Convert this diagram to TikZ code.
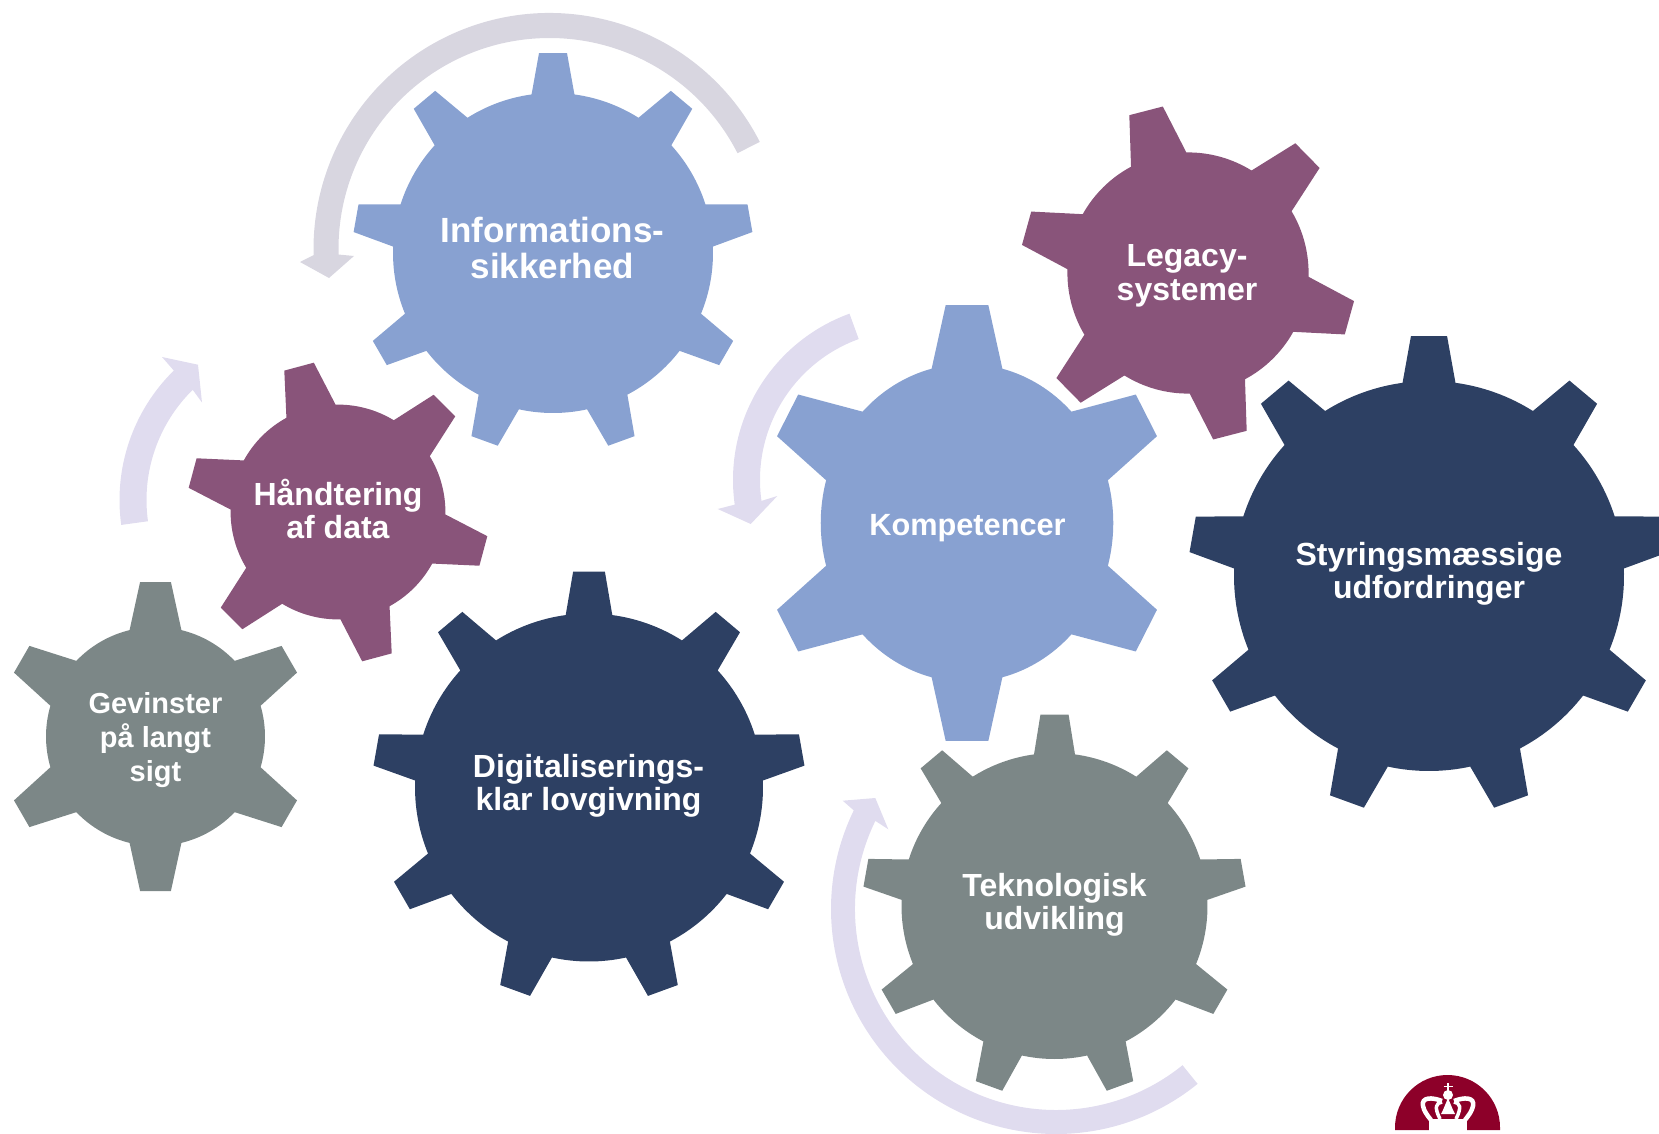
\documentclass[tikz,border=0pt]{standalone}
\usepackage{fontspec}
\setmainfont{Liberation Sans}
\definecolor{gblue}{HTML}{88A1D1}
\definecolor{gplum}{HTML}{89547A}
\definecolor{gnavy}{HTML}{2D4063}
\definecolor{ggrey}{HTML}{7C8787}
\definecolor{alilac}{HTML}{E0DCEF}
\definecolor{agrey}{HTML}{D8D6E0}
\definecolor{crownred}{HTML}{8D0029}
\tikzset{
  gearlabel/.style 2 args={text=white,align=center,inner sep=0pt,font=\bfseries\fontsize{#1}{#2}\selectfont},
}
% #1 scope options, #2 root radius, #3 tip radius, #4 teeth, #5 base half angle, #6 tip half angle, #7 colour
\newcommand\gearshape[7]{%
  \pgfmathsetmacro\gstep{360/#4}%
  \pgfmathsetmacro\gtop{#3/cos(#6)}%
  \pgfmathtruncatemacro\glast{#4-1}%
  \begin{scope}[#1]
    \fill[#7] ({-90-#5}:#2)
      \foreach \k [evaluate=\k as \A using {-90+\k*\gstep}] in {0,...,\glast} {
        -- ({\A-#6}:\gtop) -- ({\A+#6}:\gtop) -- ({\A+#5}:#2)
        arc[start angle={\A+#5},end angle={\A+\gstep-#5},radius=#2]
      } -- cycle;
  \end{scope}}
% #1 centre, #2 outer R, #3 inner R, #4 tail angle, #5 head angle, #6 head outer, #7 tip, #8 head inner, #9 colour
\newcommand\blockarrow[9]{%
  \fill[#9] ($(#1)+(#4:#2)$) arc[start angle=#4,end angle=#5,radius=#2]
    -- (#6) -- (#7) -- (#8) -- ($(#1)+(#5:#3)$)
    arc[start angle=#5,end angle=#4,radius=#3] -- cycle;}
\usetikzlibrary{calc}
\begin{document}
\begin{tikzpicture}[x=1pt,y=1pt,yscale=-1]
\useasboundingbox (0,0) rectangle (1659,1134);
% arrows
\blockarrow{549.5,249}{236}{211}{-27}{-181.5}{300,262}{329,278}{354,256}{agrey}
\blockarrow{301,500}{181.5}{154.5}{172.1}{225.5}{162,357}{198,364.7}{202,402.5}{alilac}
\blockarrow{910,480}{177}{150}{-110}{-188}{717.7,509}{750.7,524}{777.3,496}{alilac}
\blockarrow{1056,909}{225}{201}{51}{206}{842.7,800.7}{875.3,798}{888.3,829.3}{alilac}
% gears
\gearshape{shift={(553,253)}}{160}{200}{9}{7.7}{4}{gblue}
\gearshape{shift={(589,787.5)}}{174}{216}{9}{7.7}{4.2}{gnavy}
\gearshape{shift={(1429,576)}}{195}{240}{9}{7.8}{4.3}{gnavy}
\gearshape{shift={(1054.5,906)}}{153}{191.5}{9}{7.7}{4.2}{ggrey}
\begin{scope}[shift={(967,523)},xscale=.92]
  \fill[gblue] (-104:159) -- (-96.07:219.2) -- (-83.93:219.2) -- (-76:159)
    arc[start angle=-76,end angle=-44.45,radius=159]
    -- (-35:224) -- (-22.8:224) -- (-15.6:159)
    arc[start angle=-15.6,end angle=15.6,radius=159]
    -- (22.8:224) -- (35:224) -- (44.45:159)
    arc[start angle=44.45,end angle=76,radius=159]
    -- (83.93:219.2) -- (96.07:219.2) -- (104:159)
    arc[start angle=104,end angle=135.55,radius=159]
    -- (145:224) -- (157.2:224) -- (164.4:159)
    arc[start angle=164.4,end angle=195.6,radius=159]
    -- (202.8:224) -- (215:224) -- (224.45:159)
    arc[start angle=224.45,end angle=256,radius=159] -- cycle;
\end{scope}
\gearshape{shift={(155.5,736.5)}}{109.5}{154.5}{6}{13.7}{5.7}{ggrey}
\gearshape{shift={(338,512)},rotate=-15}{107.4}{150.5}{6}{13.7}{5.8}{gplum}
\gearshape{shift={(1188,273)},rotate=-14.5}{120.6}{167.5}{6}{13.7}{5.9}{gplum}
% labels
\node[gearlabel={35}{36}] (info) at (552.5,248) {Informations-\\sikkerhed};
\node[gearlabel={32}{33}] (haand) at (338,508.5) {Håndtering\\af data};
\node[gearlabel={29}{34}] (gev) at (155.5,740) {Gevinster\\på langt\\sigt};
\node[gearlabel={32}{33}] (digi) at (588.5,786) {Digitaliserings-\\klar lovgivning};
\node[gearlabel={30.7}{33}] (komp) at (967.5,528) {Kompetencer};
\node[gearlabel={32}{33.5}] (leg) at (1187,276) {Legacy-\\systemer};
\node[gearlabel={32}{33}] (styr) at (1429,573.5) {Styringsmæssige\\udfordringer};
\node[gearlabel={32}{33}] (tek) at (1054.5,904.5) {Teknologisk\\udvikling};
% logo
\fill[crownred] (1395,1127.5) arc[start angle=180,end angle=360,radius=52.5] -- (1500,1130) -- (1395,1130) -- cycle;
\fill[white] (1429,1119) rectangle (1467,1131);
\fill[white] (1448,1095) circle (5);
\fill[white] (1448,1098) -- (1453,1110) -- (1455,1114) -- (1441,1114) -- (1443,1110) -- cycle;
\draw[white,line width=1.6] (1448,1083) -- (1448,1091) (1443.5,1086.5) -- (1452.5,1086.5);
\draw[white,line width=4.5] (1442,1101) .. controls (1432,1097) and (1421,1097) .. (1423,1106) .. controls (1424,1111) and (1427,1115) .. (1431,1120);
\draw[white,line width=3.5] (1442,1102) .. controls (1436,1103) and (1434,1107) .. (1440,1119);
\draw[white,line width=4.5] (1454,1101) .. controls (1464,1097) and (1475,1097) .. (1473,1106) .. controls (1472,1111) and (1469,1115) .. (1465,1120);
\draw[white,line width=3.5] (1454,1102) .. controls (1460,1103) and (1462,1107) .. (1456,1119);
\end{tikzpicture}
\end{document}
